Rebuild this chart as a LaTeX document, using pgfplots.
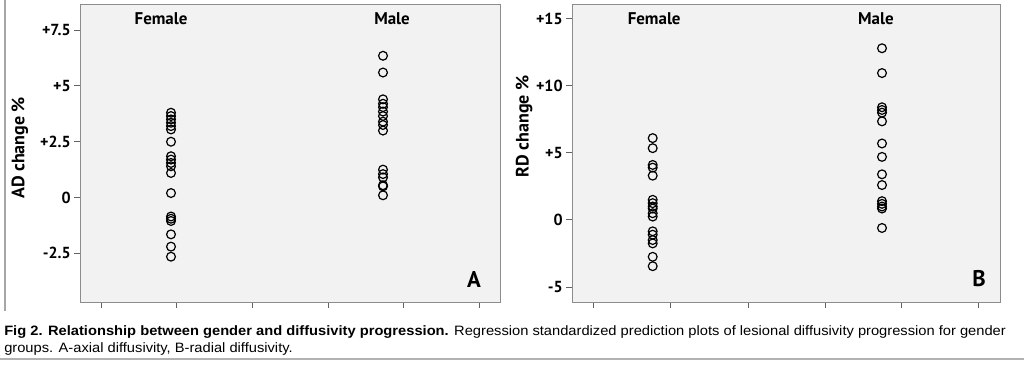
\documentclass[border=0pt]{standalone}
\usepackage{pgfplots}
\pgfplotsset{compat=1.18}
\usepackage{fontspec}
\setmainfont{PT Sans}
\newfontfamily\capfont[FakeStretch=1.08]{Liberation Sans}
\definecolor{bgc}{HTML}{F2F2F2}
\definecolor{boxc}{HTML}{8C8C8C}
\begin{document}
\begin{tikzpicture}
\useasboundingbox (0,0) rectangle (768pt,-273pt);
\fill[white] (0,0) rectangle (768pt,-273pt);
\draw[gray!70, line width=1.5pt] (3.5pt,0) -- (3.5pt,-233pt);
\draw[gray!60, line width=1.5pt] (0,-269pt) -- (768pt,-269pt);
\pgfplotsset{
  panel/.style={
    scale only axis, anchor=south west, height=223.5pt,
    axis background/.style={fill=bgc},
    axis line style={boxc, line width=0.7pt},
    tick style={boxc!70!black, line width=0.7pt},
    tick align=outside, major tick length=4.5pt,
    xtick pos=bottom, ytick pos=left,
    xticklabels={}, 
    yticklabel style={font=\bfseries\fontsize{12}{14}\selectfont, text=black, xshift=1pt},
    clip=false,
  },
  pts/.style={only marks, mark=o, mark size=3.3pt, line width=0.9pt, color=black, mark options={solid}},
}
\begin{axis}[panel, at={(60pt,-226.5pt)}, width=315pt,
  xmin=0, xmax=420, ymin=-4.68, ymax=8.67,
  xtick={21,96.6,172,248,323,399},
  ytick={-2.5,0,2.5,5,7.5}, yticklabels={-2.5,0,+2.5,+5,+7.5}]
\addplot[pts] coordinates {
(91,3.8)(91,3.65)(91,3.5)(91,3.35)(91,3.2)(91,3.05)(91,2.5)
(91,1.85)(91,1.7)(91,1.55)(91,1.4)(91,1.1)(91,0.2)
(91,-0.85)(91,-0.95)(91,-1.05)(91,-1.65)(91,-2.2)(91,-2.65)};
\addplot[pts] coordinates {
(303,6.35)(303,5.6)(303,4.4)(303,4.2)(303,4.05)(303,3.85)(303,3.65)(303,3.4)(303,3.25)(303,3.0)
(303,1.25)(303,1.05)(303,0.9)(303,0.55)(303,0.5)(303,0.1)};
\node[font=\bfseries\fontsize{12.7}{14}\selectfont] at (rel axis cs:0.193,0.95) {Female};
\node[font=\bfseries\fontsize{12.7}{14}\selectfont] at (rel axis cs:0.743,0.95) {Male};
\node[font=\bfseries\fontsize{17}{19}\selectfont] at (rel axis cs:0.938,0.074) {A};
\node[font=\bfseries\fontsize{13.5}{15}\selectfont, rotate=90] at (rel axis cs:-0.143,0.517) {AD change \%};
\end{axis}
\begin{axis}[panel, at={(429pt,-226.5pt)}, width=321pt,
  xmin=0, xmax=428, ymin=-6.12, ymax=16.1,
  xtick={21,98,176,253,329,406},
  ytick={-5,0,5,10,15}, yticklabels={-5,0,+5,+10,+15}]
\addplot[pts] coordinates {
(80.7,6.1)(80.7,5.35)(80.7,4.1)(80.7,3.9)(80.7,3.3)(80.7,1.5)(80.7,1.25)(80.7,1.0)(80.7,0.85)
(80.7,0.5)(80.7,0.25)(80.7,-0.85)(80.7,-1.1)(80.7,-1.5)(80.7,-1.75)(80.7,-2.75)(80.7,-3.45)};
\addplot[pts] coordinates {
(310,12.8)(310,10.95)(310,8.4)(310,8.2)(310,8.0)(310,7.35)(310,5.7)(310,4.7)(310,3.4)(310,2.6)
(310,1.4)(310,1.2)(310,1.0)(310,0.85)(310,-0.6)};
\node[font=\bfseries\fontsize{12.7}{14}\selectfont] at (rel axis cs:0.192,0.95) {Female};
\node[font=\bfseries\fontsize{12.7}{14}\selectfont] at (rel axis cs:0.71,0.95) {Male};
\node[font=\bfseries\fontsize{17}{19}\selectfont] at (rel axis cs:0.951,0.077) {B};
\node[font=\bfseries\fontsize{13.5}{15}\selectfont, rotate=90] at (rel axis cs:-0.112,0.59) {RD change \%};
\end{axis}
\node[anchor=base west, inner sep=0pt, font=\capfont\fontsize{10.2}{12}\selectfont] at (3pt,-251.25pt)
  {\textbf{Fig 2. Relationship between gender and diffusivity progression.} Regression standardized prediction plots of lesional diffusivity progression for gender};
\node[anchor=base west, inner sep=0pt, font=\capfont\fontsize{10.2}{12}\selectfont] at (3pt,-264pt)
  {groups. A-axial diffusivity, B-radial diffusivity.};
\end{tikzpicture}
\end{document}
